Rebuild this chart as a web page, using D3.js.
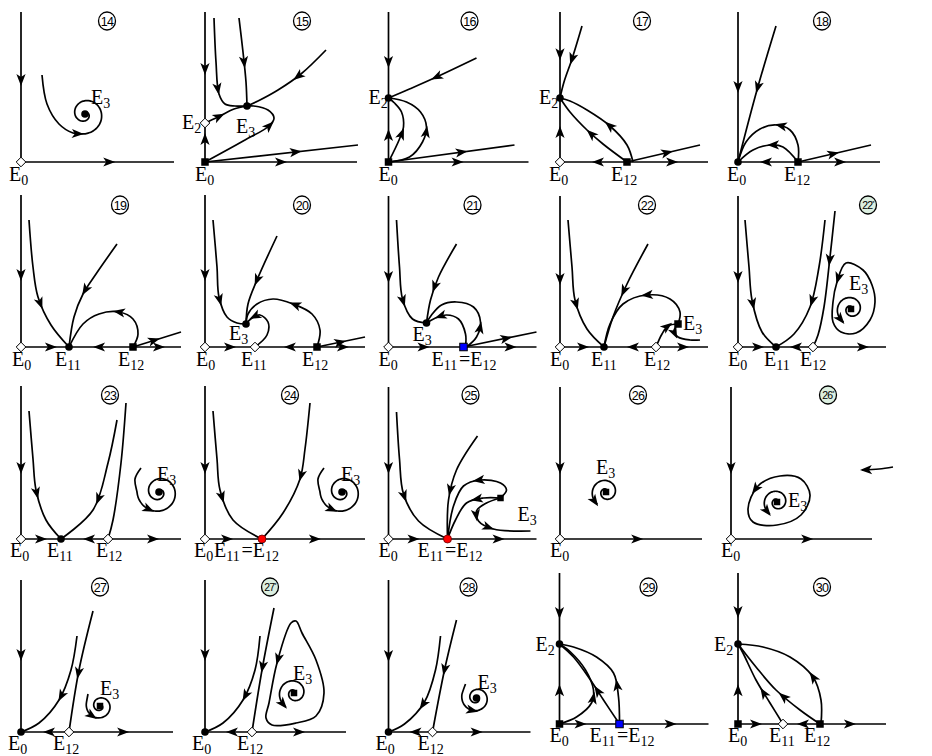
<!DOCTYPE html>
<html>
<head>
<meta charset="UTF-8">
<title>Portraits de phase 14-30</title>
<script src="https://d3js.org/d3.v7.min.js"></script>
<style>
  body { margin: 0; background: #fff; }
  svg { display: block; }
</style>
</head>
<body>
<div id="chart"></div>
<script>
// -- Données : une entrée par portrait, coordonnées locales (origine E0, y vers le haut)
const panelIds = ["14","15","16","17","18","19","20","21","22","22*",
                  "23","24","25","26","26*","27","27*","28","29","30"];

// trajectoires : p = points, a = positions des flèches, c = courbe fermée
const curves = [
  // 14
  [{p:[[0,150],[0,0]], a:[[0,82]]},
   {p:[[0,0],[153,0]], a:[[88,0]]}],
  // 15
  [{p:[[0,150],[0,39]], a:[[0,93]]},
   {p:[[0,0],[0,39]], a:[[0,23]]},
   {p:[[0,0],[152,0]], a:[[76,0]]},
   {p:[[0,0],[153,17]], a:[[91,10]]},
   {p:[[0,0],[40,22],[64,36],[69,44],[63,52],[49,56],[42,56]], a:[[64,37]]},
   {p:[[0,39],[13,45],[29,53],[42,56]], a:[[14,46]]},
   {p:[[9,144],[11,100],[14,68],[20,58],[30,56],[42,56]], a:[[12,73]]},
   {p:[[34,144],[38,110],[41,80],[42,56]], a:[[40,100]]},
   {p:[[121,112],[96,88],[73,72],[53,61],[42,56]], a:[[93,86]]}],
  // 16
  [{p:[[0,150],[0,64]], a:[[0,100]]},
   {p:[[0,0],[0,64]], a:[[0,27]]},
   {p:[[0,0],[140,0]], a:[[69,0]]},
   {p:[[0,0],[126,17]], a:[[73,10]]},
   {p:[[88,104],[48,85],[21,73],[0,64]], a:[[48,85]]},
   {p:[[0,0],[11,23],[15,35],[13,50],[6,59],[0,64]], a:[[14,28]]},
   {p:[[0,0],[21,5],[34,20],[38,35],[32,50],[18,60],[0,64]], a:[[38,30]]}],
  // 17
  [{p:[[0,150],[0,64]], a:[[0,108]]},
   {p:[[0,0],[0,64]], a:[[0,30]]},
   {p:[[67,0],[0,0]], a:[[38,0]]},
   {p:[[67,0],[148,0]], a:[[112,0]]},
   {p:[[67,0],[140,17]], a:[[107,10]]},
   {p:[[22,136],[12,103],[4,80],[0,64]], a:[[12,103]]},
   {p:[[67,0],[43,18],[27,32],[10,50],[0,64]], a:[[30,27]]},
   {p:[[73,0],[67,17],[50,36],[27,52],[10,61],[0,64]], a:[[50,37]]}],
  // 18
  [{p:[[0,150],[0,0]], a:[[0,75]]},
   {p:[[60,0],[0,0]], a:[[28,0]]},
   {p:[[60,0],[142,0]], a:[[102,0]]},
   {p:[[60,0],[133,17]], a:[[95,9]]},
   {p:[[38,136],[19,72],[0,0]], a:[[19,75]]},
   {p:[[60,0],[45,15],[33,17],[15,12],[0,0]], a:[[35,17]]},
   {p:[[60,0],[60,17],[52,32],[38,37],[22,33],[8,20],[0,0]], a:[[43,37]]}],
  // 19
  [{p:[[0,152],[0,0]], a:[[0,72]]},
   {p:[[0,0],[48,0]], a:[[30,0]]},
   {p:[[112,0],[48,0]], a:[[78,0]]},
   {p:[[112,0],[160,0]], a:[[138,0]]},
   {p:[[112,0],[160,15]], a:[[133,7]]},
   {p:[[8,127],[12,80],[17,50],[30,22],[48,0]], a:[[18,43]]},
   {p:[[96,103],[75,73],[62,53],[53,30],[48,0]], a:[[64,57]]},
   {p:[[112,0],[117,13],[112,28],[98,35],[78,33],[62,23],[48,0]], a:[[98,35]]}],
  // 20
  [{p:[[0,152],[0,0]], a:[[0,72]]},
   {p:[[0,0],[50,0]], a:[[25,0]]},
   {p:[[112,0],[50,0]], a:[[85,0]]},
   {p:[[112,0],[160,0]], a:[[138,0]]},
   {p:[[112,0],[160,10]], a:[[135,6]]},
   {p:[[8,127],[12,80],[14,50],[22,30],[32,24],[41,23]], a:[[15,47]]},
   {p:[[72,111],[52,67],[43,43],[41,23]], a:[[52,67]]},
   {p:[[50,0],[62,12],[63,25],[55,32],[47,29],[41,23]], a:[[50,30]]},
   {p:[[112,0],[115,17],[107,33],[88,43],[68,48],[52,43],[43,33],[41,23]], a:[[90,42]]}],
  // 21
  [{p:[[0,151],[0,0]], a:[[0,70]]},
   {p:[[0,0],[75,0]], a:[[35,0]]},
   {p:[[75,0],[148,0]], a:[[122,0]]},
   {p:[[75,0],[148,15]], a:[[118,8]]},
   {p:[[8,127],[11,80],[14,48],[24,28],[38,24]], a:[[14,46]]},
   {p:[[68,103],[50,70],[42,47],[38,24]], a:[[47,60]]},
   {p:[[77,0],[77,13],[70,28],[58,32],[47,29],[38,24]], a:[[52,31]]},
   {p:[[78,0],[88,10],[92,25],[85,40],[68,45],[53,42],[43,32],[38,24]], a:[[89,20]]}],
  // 22
  [{p:[[0,151],[0,0]], a:[[0,68]]},
   {p:[[0,0],[44,0]], a:[[23,0]]},
   {p:[[96,0],[44,0]], a:[[73,0]]},
   {p:[[96,0],[148,0]], a:[[123,0]]},
   {p:[[8,127],[12,80],[15,47],[27,18],[44,0]], a:[[17,43]]},
   {p:[[88,103],[67,63],[53,30],[44,0]], a:[[62,57]]},
   {p:[[118,23],[120,35],[110,48],[87,52],[63,43],[50,23],[44,0]], a:[[87,51]]},
   {p:[[96,0],[102,13],[108,21],[118,23]], a:[[107,21]]},
   {p:[[118,23],[114,16],[118,10],[130,7],[140,7]], a:[[115,14]]}],
  // 22*
  [{p:[[0,151],[0,0]], a:[[0,70]]},
   {p:[[0,0],[38,0]], a:[[20,0]]},
   {p:[[75,0],[38,0]], a:[[58,0]]},
   {p:[[75,0],[148,0]], a:[[125,0]]},
   {p:[[7,127],[11,80],[14,47],[24,15],[38,0]], a:[[15,43]]},
   {p:[[87,127],[81,80],[72,40],[56,13],[38,0]], a:[[74,46]]},
   {p:[[97,136],[92,90],[86,40],[80,12],[75,0]], a:[[92,87]]},
   {c:true, p:[[108,84],[99,65],[95,45],[95,25],[103,15],[118,14],[132,27],[137,45],[134,62],[125,77]], a:[[99,68]]}],
  // 23
  [{p:[[0,153],[0,0]], a:[[0,71]]},
   {p:[[0,0],[40,0]], a:[[20,0]]},
   {p:[[87,0],[40,0]], a:[[68,0]]},
   {p:[[87,0],[160,0]], a:[[132,0]]},
   {p:[[8,128],[12,80],[15,49],[25,19],[40,0]], a:[[16,46]]},
   {p:[[96,119],[87,76],[72,29],[40,0]], a:[[78,40]]},
   {p:[[105,136],[100,76],[92,19],[87,0]], a:[]}],
  // 24
  [{p:[[0,153],[0,0]], a:[[0,71]]},
   {p:[[0,0],[57,0]], a:[[22,0]]},
   {p:[[57,0],[160,0]], a:[[110,0]]},
   {p:[[8,128],[12,80],[15,49],[28,19],[57,0]], a:[[17,42]]},
   {p:[[105,136],[100,90],[95,60],[78,26],[57,0]], a:[[97,63]]}],
  // 25
  [{p:[[0,152],[0,0]], a:[[0,71]]},
   {p:[[0,0],[59,0]], a:[[25,0]]},
   {p:[[59,0],[148,0]], a:[[110,0]]},
   {p:[[8,127],[11,80],[15,45],[30,18],[59,0]], a:[[17,43]]},
   {p:[[89,103],[68,69],[60,39],[59,0]], a:[[62,49]]},
   {p:[[112,41],[118,49],[112,56],[92,59],[75,53],[65,33],[59,0]], a:[[90,59]]},
   {p:[[112,41],[95,41],[78,36],[67,19],[59,0]], a:[[88,41]]},
   {p:[[112,41],[98,36],[88,28],[90,18],[105,10],[142,8]], a:[[89,24],[100,12]]}],
  // 26
  [{p:[[0,152],[0,0]], a:[[0,71]]},
   {p:[[0,0],[142,0]], a:[[77,0]]}],
  // 26*
  [{p:[[0,152],[0,0]], a:[[0,71]]},
   {p:[[0,0],[141,0]], a:[[76,0]]},
   {c:true, p:[[49,63],[27,53],[17,30],[22,17],[46,14],[70,24],[79,44],[70,60]], a:[[25,50]]},
   {p:[[162,72],[148,70],[131,69]], a:[[133,69]]}],
  // 27
  [{p:[[0,152],[0,0]], a:[[0,77]]},
   {p:[[48,0],[0,0]], a:[[28,0]]},
   {p:[[48,0],[152,0]], a:[[102,0]]},
   {p:[[56,96],[50,62],[38,32],[18,9],[0,0]], a:[[40,36]]},
   {p:[[72,121],[58,62],[48,0]], a:[[58,59]]}],
  // 27*
  [{p:[[0,152],[0,0]], a:[[0,77]]},
   {p:[[47,0],[0,0]], a:[[27,0]]},
   {p:[[47,0],[141,0]], a:[[94,0]]},
   {p:[[55,96],[50,62],[38,32],[18,9],[0,0]], a:[[41,36]]},
   {p:[[69,124],[57,62],[47,0]], a:[[57,65]]},
   {c:true, p:[[86,109],[72,69],[64,29],[61,14],[67,7],[91,9],[111,16],[119,39],[111,72],[97,99],[91,111]], a:[[72,72]]}],
  // 28
  [{p:[[0,152],[0,0]], a:[[0,76]]},
   {p:[[44,0],[0,0]], a:[[27,0]]},
   {p:[[44,0],[142,0]], a:[[88,0]]},
   {p:[[52,96],[47,62],[36,30],[16,8],[0,0]], a:[[35,27]]},
   {p:[[68,112],[56,62],[44,0]], a:[[57,62]]}],
  // 29
  [{p:[[0,151],[0,80]], a:[[0,111]]},
   {p:[[0,0],[0,80]], a:[[0,34]]},
   {p:[[0,0],[60,0]], a:[[21,0]]},
   {p:[[60,0],[149,0]], a:[[111,0]]},
   {p:[[0,0],[17,7],[32,21],[34,34],[26,54],[11,72],[0,80]], a:[[34,26]]},
   {p:[[60,0],[44,24],[31,44],[14,67],[0,80]], a:[[39,34]]},
   {p:[[60,0],[59,27],[54,51],[37,67],[14,77],[0,80]], a:[[59,39]]}],
  // 30
  [{p:[[0,151],[0,80]], a:[[0,112]]},
   {p:[[0,0],[0,80]], a:[[0,34]]},
   {p:[[0,0],[45,0]], a:[[18,0]]},
   {p:[[82,0],[45,0]], a:[[65,0]]},
   {p:[[82,0],[148,0]], a:[[112,0]]},
   {p:[[45,0],[32,21],[18,44],[5,71],[0,80]], a:[[25,31]]},
   {p:[[82,0],[62,14],[38,34],[18,57],[0,80]], a:[[45,27]]},
   {p:[[83,0],[83,24],[75,47],[52,67],[25,77],[0,80]], a:[[75,47]]}]
];

// spirales autour de E3 : centre, rayon, angle de départ, balayage (deg), amorce, sens
const spirals = [
  [{c:[64,48], R:20, t0:262, sweep:520, lead:[[21,87],[26,58],[38,38],[52,29]], out:false, a:[[57,28]]}],
  [], [], [], [], [], [], [], [],
  [{c:[113,38], R:15, t0:240, sweep:-560, lead:[], out:true, a:[[102,23]]}],
  [{c:[138,47], R:22, t0:180, sweep:630, lead:[[120,71],[114,60]], out:false, a:[[127,28]]}],
  [{c:[137,47], R:22, t0:180, sweep:630, lead:[[119,71],[113,60]], out:false, a:[[126,28]]}],
  [],
  [{c:[46,47], R:15, t0:235, sweep:-560, lead:[], out:true, a:[[38,32]]}],
  [{c:[46,37], R:14, t0:240, sweep:-560, lead:[], out:true, a:[[38,25]]}],
  [{c:[79,26], R:14, t0:165, sweep:600, lead:[[67,38]], out:false, a:[[68,12]]}],
  [{c:[89,39], R:16, t0:240, sweep:-560, lead:[], out:true, a:[[79,22]]}],
  [{c:[88,34], R:15, t0:165, sweep:600, lead:[[77,48]], out:false, a:[[82,15]]}],
  [], []
];

// équilibres : x, y, type (o = losange ouvert, n = noeud, s = carré, q = petit carré, b = bleu, r = rouge)
const equilibria = [
  [[0,0,"o"],[64,48,"n"]],
  [[0,0,"s"],[0,39,"o"],[42,56,"n"]],
  [[0,0,"s"],[0,64,"n"]],
  [[0,0,"o"],[0,64,"n"],[67,0,"s"]],
  [[0,0,"n"],[60,0,"s"]],
  [[0,0,"o"],[48,0,"n"],[112,0,"s"]],
  [[0,0,"o"],[50,0,"o"],[112,0,"s"],[41,23,"n"]],
  [[0,0,"o"],[38,24,"n"],[75,0,"b"]],
  [[0,0,"o"],[44,0,"n"],[96,0,"o"],[118,23,"s"]],
  [[0,0,"o"],[38,0,"n"],[75,0,"o"],[113,38,"q"]],
  [[0,0,"o"],[40,0,"n"],[87,0,"o"],[138,47,"n"]],
  [[0,0,"o"],[57,0,"r"],[137,47,"n"]],
  [[0,0,"o"],[59,0,"r"],[112,41,"q"]],
  [[0,0,"o"],[46,47,"q"]],
  [[0,0,"o"],[46,37,"q"]],
  [[0,0,"n"],[48,0,"o"],[79,26,"q"]],
  [[0,0,"n"],[47,0,"o"],[89,39,"q"]],
  [[0,0,"n"],[44,0,"o"],[88,34,"n"]],
  [[0,0,"s"],[0,80,"n"],[60,0,"b"]],
  [[0,0,"s"],[0,80,"n"],[45,0,"o"],[82,0,"s"]]
];

// étiquettes des équilibres : texte, x, y (ligne de base)
const eqLabels = [
  [["E_0",-12,-19],["E_3",70,58]],
  [["E_0",-10,-19],["E_2",-23,33],["E_3",31,29]],
  [["E_0",-10,-19],["E_2",-20,58]],
  [["E_0",-11,-19],["E_2",-21,58],["E_12",51,-19]],
  [["E_0",-11,-19],["E_12",46,-19]],
  [["E_0",-9,-19],["E_11",34,-19],["E_12",97,-19]],
  [["E_0",-9,-19],["E_3",24,7],["E_11",36,-19],["E_12",97,-19]],
  [["E_0",-10,-19],["E_3",24,6],["E_11=E_12",43,-19]],
  [["E_0",-10,-19],["E_3",123,17],["E_11",31,-19],["E_12",84,-19]],
  [["E_0",-10,-19],["E_3",111,57],["E_11",26,-19],["E_12",62,-19]],
  [["E_0",-11,-18],["E_3",136,58],["E_11",26,-18],["E_12",75,-18]],
  [["E_0",-11,-18],["E_3",136,58],["E_11=E_12",9,-18]],
  [["E_0",-10,-18],["E_3",129,18],["E_11=E_12",29,-18]],
  [["E_0",-10,-18],["E_3",36,65]],
  [["E_0",-10,-18],["E_3",57,32]],
  [["E_0",-13,-18],["E_3",79,37],["E_12",32,-18]],
  [["E_0",-13,-18],["E_3",88,52],["E_12",32,-18]],
  [["E_0",-13,-18],["E_3",89,43],["E_12",29,-18]],
  [["E_0",-10,-18],["E_2",-24,73],["E_11=E_12",30,-18]],
  [["E_0",-10,-18],["E_2",-24,73],["E_11",31,-18],["E_12",66,-18]]
];

// -- Mise en page (origine E0 de chaque portrait, position du numéro cerclé)
const W = 932, H = 756;
const colX = [21, 205, 388.5, 560, 738];
const rowY = [162, 347, 539, 732];
const originOverride = {"26*":[731, 539], "29":[559.5, 724], "30":[738, 724]};
const tagPos = [[86,141],[97,141],[81,141],[82,141],[84,141],
                [99,142],[97,142],[84,142],[87,142],[130,142],
                [89,144],[85,144],[82,144],[78,144],[97,144],
                [79,145],[65,145],[80,145],[89,137],[84,137]];

const svg = d3.select("#chart").append("svg")
    .attr("width", W).attr("height", H)
    .style("background", "#fff");

const line = d3.line().curve(d3.curveCatmullRom.alpha(0.5));
const lineClosed = d3.line().curve(d3.curveCatmullRomClosed.alpha(0.5));
const arrowShape = "M6,0L-6,-4.6L-3,0L-6,4.6Z";

function spiralPoints(s) {
  const pts = s.lead.map(d => d.slice());
  const n = 90, rEnd = 1.5;
  const spiral = [];
  for (let i = 0; i <= n; i++) {
    const t = i / n;
    const th = (s.t0 + s.sweep * t) * Math.PI / 180;
    const r = s.R + (rEnd - s.R) * t;
    spiral.push([s.c[0] + r * Math.cos(th), s.c[1] + r * Math.sin(th)]);
  }
  const all = pts.concat(spiral);
  return s.out ? all.reverse() : all;
}

function addArrows(g, node, targets, x, y) {
  const L = node.getTotalLength();
  targets.forEach(t => {
    const tx = x(t[0]), ty = y(t[1]);
    let best = 0, bd = Infinity;
    for (let i = 0; i <= 300; i++) {
      const s = L * i / 300;
      const q = node.getPointAtLength(s);
      const d = (q.x - tx) ** 2 + (q.y - ty) ** 2;
      if (d < bd) { bd = d; best = s; }
    }
    best = Math.min(Math.max(best, 4), L - 4);
    const p0 = node.getPointAtLength(best - 2), p1 = node.getPointAtLength(best + 2);
    const pc = node.getPointAtLength(best);
    const ang = Math.atan2(p1.y - p0.y, p1.x - p0.x) * 180 / Math.PI;
    g.append("path")
      .attr("d", arrowShape)
      .attr("fill", "#000")
      .attr("transform", `translate(${pc.x},${pc.y}) rotate(${ang})`);
  });
}

function addLabel(g, text, px, py) {
  const t = g.append("text")
    .attr("x", px).attr("y", py)
    .attr("font-family", "'Liberation Serif', 'Times New Roman', serif")
    .attr("font-size", 20)
    .attr("fill", "#000");
  text.split("=").forEach((part, i) => {
    if (i > 0) t.append("tspan").text("=");
    const [base, sub] = part.split("_");
    t.append("tspan").text(base);
    t.append("tspan").attr("font-size", 14).attr("dy", 4).text(sub);
    t.append("tspan").attr("font-size", 20).attr("dy", -4).text("\u200A");
  });
}

panelIds.forEach((id, k) => {
  const col = k % 5, row = Math.floor(k / 5);
  const [ox, oy] = originOverride[id] || [colX[col], rowY[row]];
  const x = d3.scaleLinear().domain([0, 100]).range([ox, ox + 100]);
  const y = d3.scaleLinear().domain([0, 100]).range([oy, oy - 100]);
  const g = svg.append("g").attr("class", "panel");

  // trajectoires
  curves[k].forEach(cv => {
    const gen = cv.c ? lineClosed : line;
    const path = g.append("path")
      .attr("d", gen(cv.p.map(d => [x(d[0]), y(d[1])])))
      .attr("fill", "none")
      .attr("stroke", "#000")
      .attr("stroke-width", 1.7);
    addArrows(g, path.node(), cv.a, x, y);
  });

  // spirales
  spirals[k].forEach(sp => {
    const pts = spiralPoints(sp);
    const path = g.append("path")
      .attr("d", line(pts.map(d => [x(d[0]), y(d[1])])))
      .attr("fill", "none")
      .attr("stroke", "#000")
      .attr("stroke-width", 1.7);
    addArrows(g, path.node(), sp.a, x, y);
  });

  // équilibres
  equilibria[k].forEach(([ex, ey, kind]) => {
    const cx = x(ex), cy = y(ey);
    if (kind === "o") {
      g.append("path").attr("d", "M0,-4.8L4.8,0L0,4.8L-4.8,0Z")
        .attr("transform", `translate(${cx},${cy})`)
        .attr("fill", "#fff").attr("stroke", "#000").attr("stroke-width", 1);
    } else if (kind === "n") {
      g.append("circle").attr("cx", cx).attr("cy", cy).attr("r", 3.8).attr("fill", "#000");
    } else if (kind === "r") {
      g.append("circle").attr("cx", cx).attr("cy", cy).attr("r", 4)
        .attr("fill", "#ff0000").attr("stroke", "#600").attr("stroke-width", 0.8);
    } else {
      const s = kind === "q" ? 6.5 : 7.5;
      g.append("rect").attr("x", cx - s / 2).attr("y", cy - s / 2)
        .attr("width", s).attr("height", s)
        .attr("fill", kind === "b" ? "#0000ff" : "#000")
        .attr("stroke", "#000").attr("stroke-width", kind === "b" ? 1 : 0);
    }
  });

  // étiquettes
  eqLabels[k].forEach(([txt, lx, ly]) => addLabel(g, txt, x(lx), y(ly)));

  // numéro cerclé
  const star = id.endsWith("*");
  const num = id.replace("*", "");
  const tg = g.append("g").attr("transform", `translate(${x(tagPos[k][0])},${y(tagPos[k][1])})`);
  tg.append("ellipse").attr("rx", 8.5).attr("ry", 9)
    .attr("fill", star ? "#dcefe0" : "#fff")
    .attr("stroke", "#000").attr("stroke-width", 1.3);
  const tt = tg.append("text")
    .attr("text-anchor", "middle").attr("dy", "0.36em")
    .attr("font-family", "'Liberation Sans Narrow', 'Liberation Sans', Arial, sans-serif")
    .attr("font-size", star ? 10.5 : 12.5)
    .attr("letter-spacing", -0.8)
    .text(num);
  if (star) tt.append("tspan").attr("font-size", 6).attr("dy", -4).text("*");
});
</script>
</body>
</html>
